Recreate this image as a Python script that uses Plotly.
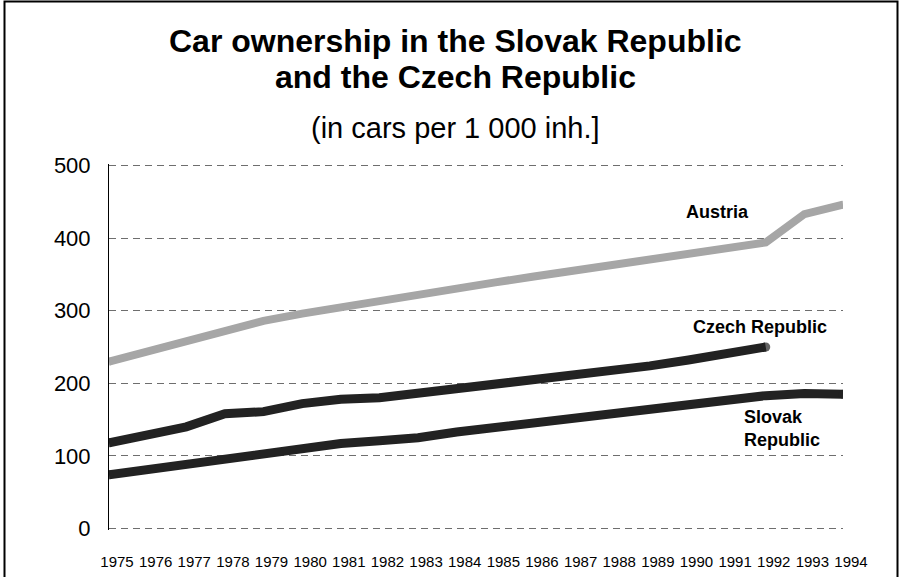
import plotly.graph_objects as go

# Passenger cars per 1 000 inhabitants
years = list(range(1975, 1995))
austria = [230, 244, 258, 272, 286, 296, 305, 314, 322, 331,
           339, 347, 355, 363, 371, 379, 387, 394, 433, 446]
czech = [118, 129, 140, 158, 161, 172, 178, 180, 186, 194,
         199, 204, 210, 217, 224, 232, 240, 250]
slovak = [74, 81, 89, 96, 105, 111, 117, 121, 125, 133,
          139, 145, 152, 158, 166, 172, 178, 183, 186, 185]
y_ticks = [0, 100, 200, 300, 400, 500]

FONT = "Liberation Sans, Arial, sans-serif"

# plot area in pixels
L, R, T, B = 109, 843, 164, 530


def end_caps(n, size):
    # round the line ends with a dot at the first and last point
    return [size] + [0] * (n - 2) + [size]


fig = go.Figure()
series = [
    ("Austria", austria, "#a6a6a6", 8),
    ("Czech Republic", czech, "#222222", 9),
    ("Slovak Republic", slovak, "#222222", 9),
]
for name, vals, color, width in series:
    fig.add_trace(go.Scatter(
        x=years[:len(vals)], y=vals, name=name,
        mode="lines+markers",
        line=dict(color=color, width=width),
        marker=dict(color=color, size=end_caps(len(vals), width), line=dict(width=0)),
        showlegend=False, hoverinfo="x+y+name",
    ))

fig.update_layout(
    width=901, height=577,
    margin=dict(l=L, r=901 - R, t=T, b=577 - B),
    paper_bgcolor="white", plot_bgcolor="white",
    font=dict(family=FONT, color="black"),
    xaxis=dict(
        range=[1975, 1994], tickmode="array", tickvals=years,
        ticktext=[str(y) for y in years],
        showgrid=False, zeroline=False, showline=False, ticks="",
        tickfont=dict(size=15), ticklabelshift=8, ticklabelstandoff=21,
        automargin=False,
    ),
    yaxis=dict(
        range=[-2, 502], tickmode="array", tickvals=y_ticks,
        showgrid=True, gridcolor="#6e6e6e", gridwidth=1, griddash="7px,5px",
        zeroline=False, showline=True, linecolor="black", linewidth=1,
        ticks="", tickfont=dict(size=22), ticklabelstandoff=13,
        automargin=False,
    ),
)


def px_x(p):
    return (p - L) / (R - L)


def px_y(p):
    return (B - p) / (B - T)


titles = [
    ("<b>Car ownership in the Slovak Republic</b>", 41, 32),
    ("<b>and the Czech Republic</b>", 77, 32),
    ("(in cars per 1 000 inh.]", 128, 29),
]
for text, yc, size in titles:
    fig.add_annotation(
        text=text, xref="paper", yref="paper", x=px_x(455), y=px_y(yc),
        xanchor="center", yanchor="middle", showarrow=False,
        font=dict(size=size, family=FONT, color="black"),
    )

labels = [
    ("<b>Austria</b>", 1990.74, 436, "center"),
    ("<b>Czech Republic</b>", 1991.85, 278, "center"),
    ("<b>Slovak<br>Republic</b>", 1991.39, 138, "left"),
]
for text, x, y, anchor in labels:
    fig.add_annotation(
        text=text, x=x, y=y, xref="x", yref="y", xanchor=anchor,
        yanchor="middle", align="left", showarrow=False,
        font=dict(size=18, family=FONT, color="black"),
    )

# outer frame
fig.add_shape(
    type="rect", xref="paper", yref="paper",
    x0=px_x(4.5), x1=px_x(897.5), y0=px_y(590), y1=px_y(1.5),
    line=dict(color="black", width=2), fillcolor="rgba(0,0,0,0)", layer="above",
)

fig.write_html("out.html")
